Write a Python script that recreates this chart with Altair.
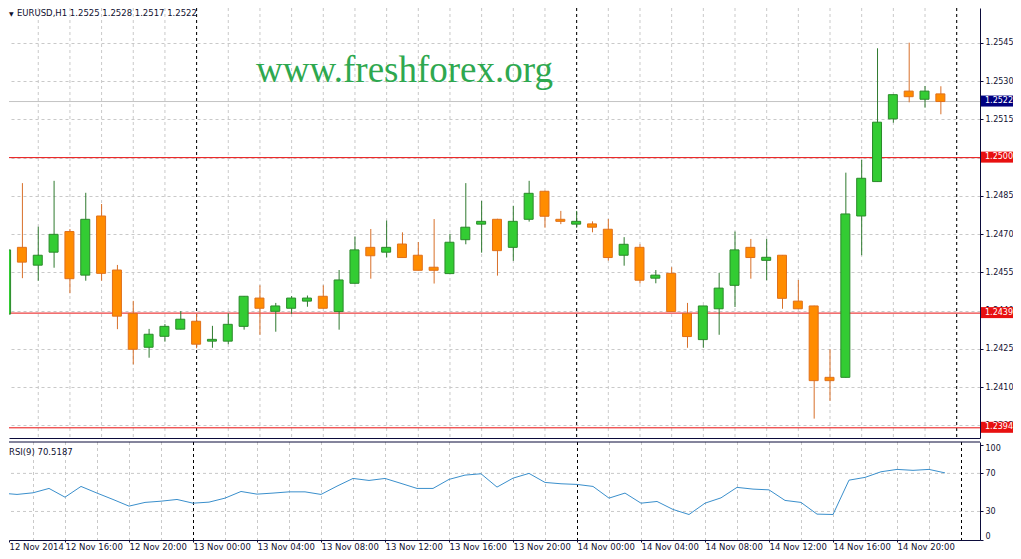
import json
import numpy as np
import pandas as pd
import altair as alt

# ---------------- data (EURUSD H1, from 12 Nov 2014 12:00) ----------------
hours = list(range(60))
open_ = [1.24386, 1.24648, 1.24578, 1.24629, 1.24710, 1.24539, 1.24771, 1.24559, 1.24389, 1.24256,
         1.24299, 1.24327, 1.24358, 1.24280, 1.24280, 1.24338, 1.24449, 1.24397, 1.24409, 1.24437,
         1.24456, 1.24396, 1.24507, 1.24648, 1.24629, 1.24661, 1.24617, 1.24570, 1.24545, 1.24678,
         1.24739, 1.24758, 1.24648, 1.24758, 1.24868, 1.24758, 1.24739, 1.24740, 1.24719, 1.24617,
         1.24648, 1.24527, 1.24546, 1.24389, 1.24286, 1.24407, 1.24499, 1.24648, 1.24597, 1.24617,
         1.24437, 1.24418, 1.24138, 1.24138, 1.24771, 1.24906, 1.25152, 1.25261, 1.25229, 1.2525]
high = [1.24710, 1.24900, 1.24729, 1.24909, 1.24720, 1.24862, 1.24818, 1.24579, 1.24438, 1.24328,
        1.24347, 1.24398, 1.24387, 1.24340, 1.24389, 1.24457, 1.24499, 1.24430, 1.24457, 1.24459,
        1.24499, 1.24559, 1.24690, 1.24720, 1.24753, 1.24707, 1.24669, 1.24759, 1.24701, 1.24900,
        1.24830, 1.24760, 1.24811, 1.24909, 1.24870, 1.24791, 1.24791, 1.24750, 1.24759, 1.24688,
        1.24660, 1.24559, 1.24570, 1.24430, 1.24419, 1.24548, 1.24710, 1.24681, 1.24681, 1.24618,
        1.24520, 1.24419, 1.24248, 1.24941, 1.24991, 1.25429, 1.25248, 1.25451, 1.25281, 1.2528]
low = [1.24379, 1.24527, 1.24517, 1.24568, 1.24468, 1.24517, 1.24517, 1.24327, 1.24189, 1.24215,
       1.24278, 1.24326, 1.24252, 1.24254, 1.24268, 1.24325, 1.24305, 1.24317, 1.24387, 1.24415,
       1.24408, 1.24325, 1.24506, 1.24525, 1.24608, 1.24607, 1.24557, 1.24506, 1.24544, 1.24660,
       1.24627, 1.24537, 1.24595, 1.24749, 1.24725, 1.24739, 1.24725, 1.24707, 1.24596, 1.24576,
       1.24506, 1.24507, 1.24395, 1.24254, 1.24254, 1.24305, 1.24414, 1.24525, 1.24519, 1.24407,
       1.24406, 1.23976, 1.24046, 1.24137, 1.24617, 1.24905, 1.25137, 1.25217, 1.25196, 1.2517]
close = [1.24638, 1.24590, 1.24617, 1.24699, 1.24525, 1.24758, 1.24546, 1.24378, 1.24248, 1.24307,
         1.24338, 1.24366, 1.24268, 1.24287, 1.24346, 1.24456, 1.24409, 1.24418, 1.24449, 1.24449,
         1.24409, 1.24520, 1.24638, 1.24615, 1.24648, 1.24608, 1.24558, 1.24558, 1.24668, 1.24727,
         1.24750, 1.24635, 1.24750, 1.24860, 1.24770, 1.24750, 1.24750, 1.24727, 1.24608, 1.24660,
         1.24519, 1.24539, 1.24396, 1.24298, 1.24418, 1.24488, 1.24638, 1.24608, 1.24609, 1.24448,
         1.24407, 1.24125, 1.24125, 1.24779, 1.24919, 1.25139, 1.25247, 1.25239, 1.25261, 1.2522]
rsi = [49.3, 47.9, 49.6, 54.2, 45.0, 56.3, 49.3, 42.6, 35.6, 39.5,
       40.8, 42.6, 38.7, 39.8, 44.0, 51.0, 48.2, 49.3, 50.6, 50.6,
       47.9, 56.6, 64.7, 62.6, 64.7, 59.5, 54.2, 54.2, 63.7, 68.2,
       69.6, 55.6, 65.0, 70.0, 60.5, 59.1, 58.4, 56.3, 44.0, 49.3,
       38.7, 40.5, 32.1, 26.8, 38.7, 44.3, 55.3, 53.5, 52.7, 41.6,
       39.5, 27.2, 26.8, 62.9, 65.8, 71.7, 74.2, 73.2, 74.2, 70.5187]

price_ticks = [1.2395, 1.2410, 1.2425, 1.2440, 1.2455, 1.2470, 1.2485, 1.2500, 1.2515, 1.2530, 1.2545]
levels = [1.2500, 1.2439, 1.2394]
x_labels = ["12 Nov 2014", "12 Nov 16:00", "12 Nov 20:00", "13 Nov 00:00", "13 Nov 04:00",
            "13 Nov 08:00", "13 Nov 12:00", "13 Nov 16:00", "13 Nov 20:00", "14 Nov 00:00",
            "14 Nov 04:00", "14 Nov 08:00", "14 Nov 12:00", "14 Nov 16:00", "14 Nov 20:00"]
label_hours = [0, 4, 8, 12, 16, 20, 24, 28, 32, 36, 40, 44, 48, 52, 56]
grid_hours = [2, 4, 6, 8, 10, 12, 14, 16, 18, 20, 22, 24, 26, 28, 30, 32, 34, 36, 38, 40,
              42, 44, 46, 48, 50, 52, 54, 56, 58, 60]
day_breaks = [12, 36, 60]
rsi_ticks = [0, 30, 70, 100]
rsi_grid = [30, 70]
symbol = "EURUSD,H1"
watermark = "www.freshforex.org"

# ---------------- layout / style ----------------
W, H_MAIN, H_RSI = 971, 430, 98
X_MIN, X_MAX = 0.5, 61.1875
P_MIN, P_MAX = 1.2390, 1.25587
R_MIN, R_MAX = 0, 103
FONT = "DejaVu Sans"
NAVY = "#0b0b3a"
TXT = "#101030"
GRID = "#c9c9c9"
BULL_FILL, BULL_LINE, BULL_WICK = "#33cc33", "#2a8a2a", "#2f7a2f"
BEAR_FILL, BEAR_LINE, BEAR_WICK = "#ff8c00", "#e0701a", "#d8702a"
RED = "#e81010"
BOX_NAVY = "#000080"
WM_GREEN = "#2ea84f"
RSI_COLOR = "#3a8fcc"

df = pd.DataFrame({"h": hours, "open": open_, "high": high, "low": low, "close": close, "rsi": rsi})
df["dir"] = np.where(df["close"] >= df["open"], "up", "down")

xscale = alt.Scale(domain=[X_MIN, X_MAX], nice=False, zero=False)
pscale = alt.Scale(domain=[P_MIN, P_MAX], nice=False, zero=False)
rscale = alt.Scale(domain=[R_MIN, R_MAX], nice=False, zero=False)

main_x_axis = alt.Axis(labels=False, ticks=False, grid=False, domain=True,
                       domainColor=NAVY, title=None, orient="bottom")
main_y_axis = alt.Axis(orient="right", values=price_ticks, format=".4f", grid=True,
                       gridColor=GRID, gridDash=[3, 3], tickSize=3, tickColor=NAVY,
                       domainColor=NAVY, labelColor=TXT, labelFont=FONT, labelFontSize=8,
                       labelPadding=2, title=None)

label_expr = json.dumps(x_labels) + "[round(datum.value / 4)]"
rsi_x_axis = alt.Axis(values=[max(v, X_MIN) for v in label_hours], labelExpr=label_expr,
                      labelAlign="left", labelFlush=False, labelBaseline="top",
                      labelPadding=0, tickSize=2, tickColor=NAVY, domainColor=NAVY,
                      labelColor=TXT, labelFont=FONT, labelFontSize=8.5, grid=False, title=None)
rsi_y_axis = alt.Axis(orient="right", values=rsi_ticks, labelFlush=5, grid=False, tickSize=3,
                      tickColor=NAVY, domainColor=NAVY, labelColor=TXT, labelFont=FONT,
                      labelFontSize=8, labelPadding=2, title=None)


def XM(f="h:Q"):
    return alt.X(f, scale=xscale, axis=main_x_axis)


def YM(f):
    return alt.Y(f, scale=pscale, axis=main_y_axis)


def XR(f="h:Q"):
    return alt.X(f, scale=xscale, axis=rsi_x_axis)


def YR(f):
    return alt.Y(f, scale=rscale, axis=rsi_y_axis)


dir_dom = ["up", "down"]

# ---------------- main price panel ----------------
base = alt.Chart(df)
vgrid = alt.Chart(pd.DataFrame({"h": grid_hours})).mark_rule(
    color=GRID, strokeDash=[3, 3], strokeWidth=1, xOffset=0.5, clip=True).encode(x=XM())
seps = alt.Chart(pd.DataFrame({"h": day_breaks})).mark_rule(
    color="#000000", strokeDash=[3, 3], strokeWidth=1, xOffset=0.5, clip=True).encode(x=XM())
bid_line = alt.Chart(pd.DataFrame({"p": [close[-1]]})).mark_rule(
    color="#c4c4c4", strokeWidth=1).encode(y=YM("p:Q"))
lvl_lines = alt.Chart(pd.DataFrame({"p": levels})).mark_rule(
    color=RED, strokeWidth=1).encode(y=YM("p:Q"))
wicks = base.mark_rule(strokeWidth=1, xOffset=0.5, clip=True).encode(
    x=XM(), y=YM("low:Q"), y2="high:Q",
    color=alt.Color("dir:N", scale=alt.Scale(domain=dir_dom, range=[BULL_WICK, BEAR_WICK]), legend=None))
bodies = base.mark_bar(size=9, orient="vertical", strokeWidth=1, clip=True).encode(
    x=XM(), y=YM("open:Q"), y2="close:Q",
    fill=alt.Fill("dir:N", scale=alt.Scale(domain=dir_dom, range=[BULL_FILL, BEAR_FILL]), legend=None),
    stroke=alt.Stroke("dir:N", scale=alt.Scale(domain=dir_dom, range=[BULL_LINE, BEAR_LINE]), legend=None))

wm = alt.Chart(pd.DataFrame({"t": [watermark]})).mark_text(
    font="Liberation Serif", fontSize=37, color=WM_GREEN, align="left", baseline="alphabetic"
).encode(x=alt.value(247), y=alt.value(74), text="t:N")
header_txt = f"{symbol}  {open_[-1]:.4f} {high[-1]:.4f} {low[-1]:.4f} {close[-1]:.4f}"
header = alt.Chart(pd.DataFrame({"t": [header_txt]})).mark_text(
    font=FONT, fontSize=8.5, color=TXT, align="left", baseline="top"
).encode(x=alt.value(8), y=alt.value(1), text="t:N")
tri = alt.Chart(pd.DataFrame({"t": ["\u25bc"]})).mark_text(
    font=FONT, fontSize=6, color=TXT, align="left", baseline="top"
).encode(x=alt.value(0), y=alt.value(3), text="t:N")

bid_box = alt.Chart(pd.DataFrame({"p": [close[-1]]})).mark_rect(
    color=BOX_NAVY, yOffset=-6, y2Offset=5).encode(
    x=alt.value(W + 1), x2=alt.value(W + 33), y=YM("p:Q"), y2="p:Q")
lvl_box = alt.Chart(pd.DataFrame({"p": levels})).mark_rect(
    color=RED, yOffset=-6, y2Offset=5).encode(
    x=alt.value(W + 1), x2=alt.value(W + 33), y=YM("p:Q"), y2="p:Q")
box_txt = alt.Chart(pd.DataFrame({"p": [close[-1]] + levels})).mark_text(
    font=FONT, fontSize=8, color="white", align="left", baseline="middle", dy=-0.5).encode(
    x=alt.value(W + 5), y=YM("p:Q"), text=alt.Text("p:Q", format=".4f"))

main = alt.layer(vgrid, seps, bid_line, lvl_lines, wicks, bodies, wm, header, tri,
                 bid_box, lvl_box, box_txt).properties(width=W, height=H_MAIN)

# ---------------- RSI panel ----------------
r_vgrid = alt.Chart(pd.DataFrame({"h": grid_hours})).mark_rule(
    color=GRID, strokeDash=[3, 3], strokeWidth=1, xOffset=0.5, clip=True).encode(x=XR())
r_hgrid = alt.Chart(pd.DataFrame({"r": rsi_grid})).mark_rule(
    color=GRID, strokeDash=[3, 3], strokeWidth=1).encode(y=YR("r:Q"))
r_seps = alt.Chart(pd.DataFrame({"h": day_breaks})).mark_rule(
    color="#000000", strokeDash=[3, 3], strokeWidth=1, xOffset=0.5, clip=True).encode(x=XR())
r_top = alt.Chart(pd.DataFrame({"r": [R_MAX]})).mark_rule(
    color=NAVY, strokeWidth=1).encode(y=YR("r:Q"))
r_line = base.mark_line(color=RSI_COLOR, strokeWidth=1, clip=True).encode(x=XR(), y=YR("rsi:Q"))
r_label = alt.Chart(pd.DataFrame({"t": [f"RSI(9) {rsi[-1]:.4f}"]})).mark_text(
    font=FONT, fontSize=8.5, color=TXT, align="left", baseline="middle"
).encode(x=alt.value(0), y=alt.value(10), text="t:N")

rsi_panel = alt.layer(r_vgrid, r_hgrid, r_seps, r_top, r_line, r_label).properties(
    width=W, height=H_RSI)

chart = alt.vconcat(main, rsi_panel, spacing=3).properties(
    padding=0, background="white").configure_view(stroke=None)

chart.save("out.html", embed_options={"renderer": "svg", "actions": False})
